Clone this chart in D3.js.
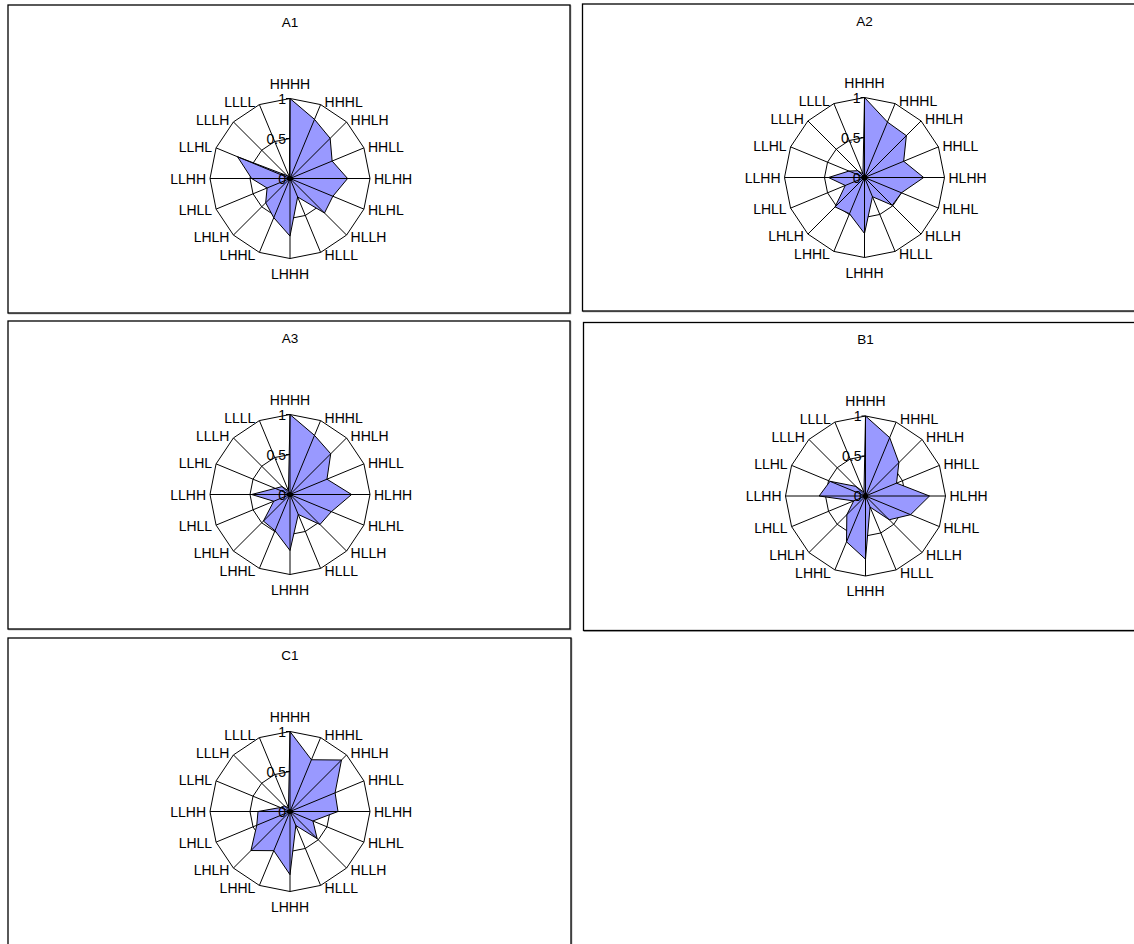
<!DOCTYPE html>
<html>
<head>
<meta charset="utf-8">
<script src="https://cdn.jsdelivr.net/npm/d3@7"></script>
<style>
  html, body { margin: 0; padding: 0; background: #fff; }
  svg { display: block; font-family: "Liberation Sans", Arial, sans-serif; }
</style>
</head>
<body>
<svg id="chart" width="1134" height="944"></svg>
<script>
// categories, clockwise from the top
const categories = ['HHHH', 'HHHL', 'HHLH', 'HHLL', 'HLHH', 'HLHL', 'HLLH', 'HLLL',
                    'LHHH', 'LHHL', 'LHLH', 'LHLL', 'LLHH', 'LLHL', 'LLLH', 'LLLL'];
const tickValues = [0, 0.5, 1];
const tickLabels = ['0', '0.5', '1'];

const panelNames = ['A1', 'A2', 'A3', 'B1', 'C1'];
const a1Values = [1.0, 0.80, 0.71, 0.57, 0.72, 0.58, 0.61, 0.25, 0.72, 0.53, 0.43, 0.31, 0.48, 0.71, 0.05, 0.02];
const a2Values = [1.0, 0.75, 0.74, 0.53, 0.74, 0.50, 0.49, 0.26, 0.70, 0.49, 0.52, 0.26, 0.45, 0.21, 0.12, 0.05];
const a3Values = [1.0, 0.80, 0.72, 0.50, 0.77, 0.56, 0.53, 0.27, 0.70, 0.49, 0.47, 0.22, 0.48, 0.20, 0.14, 0.05];
const b1Values = [1.0, 0.79, 0.59, 0.42, 0.80, 0.61, 0.42, 0.15, 0.79, 0.62, 0.33, 0.16, 0.58, 0.48, 0.17, 0.05];
const c1Values = [1.0, 0.70, 0.91, 0.61, 0.60, 0.31, 0.48, 0.19, 0.79, 0.53, 0.69, 0.45, 0.40, 0.13, 0.10, 0.05];
const seriesValues = [a1Values, a2Values, a3Values, b1Values, c1Values];

// panel frames [x, y, w, h]
const frames = [
  [8, 5, 562, 308],
  [582.5, 4, 570, 307],
  [8, 321, 562, 308],
  [583.5, 322.5, 570, 308],
  [8, 638, 563, 320]
];

const svg = d3.select('#chart');
const radius = 80;

const r = d3.scaleLinear().domain([0, 1]).range([0, radius]);
const angle = d3.scaleBand().domain(categories).range([0, 2 * Math.PI]).align(0);
const ang = c => angle(c); // band start = spoke angle

panelNames.forEach((name, i) => {
  const [fx, fy, fw, fh] = frames[i];
  const cx = fx + 282;
  const cy = fy + 173.5;
  const values = seriesValues[i];

  const g = svg.append('g');

  // frame (with faint shadow line like the original)
  g.append('rect')
    .attr('x', fx + 0.8).attr('y', fy + 0.8)
    .attr('width', fw).attr('height', fh)
    .attr('fill', 'none').attr('stroke', '#999').attr('stroke-width', 1);
  g.append('rect')
    .attr('x', fx).attr('y', fy)
    .attr('width', fw).attr('height', fh)
    .attr('fill', '#fff').attr('stroke', '#000').attr('stroke-width', 1.3);

  g.append('text')
    .attr('x', cx).attr('y', fy + 18)
    .attr('text-anchor', 'middle')
    .attr('dominant-baseline', 'middle')
    .style('font-size', '13.5px')
    .text(name);

  const plot = g.append('g').attr('transform', `translate(${cx},${cy})`);

  // gridline rings, under the series fill
  tickValues.slice(1).forEach(t => {
    plot.append('path')
      .datum(categories)
      .attr('d', d3.lineRadial().angle(c => ang(c)).radius(() => r(t)).curve(d3.curveLinearClosed))
      .attr('fill', 'none').attr('stroke', '#000').attr('stroke-width', 1);
  });

  // series area
  const area = d3.lineRadial()
    .angle((d, j) => ang(categories[j]))
    .radius(d => r(d))
    .curve(d3.curveLinearClosed);

  plot.append('path')
    .datum(values)
    .attr('d', area)
    .attr('fill', '#9999ff')
    .attr('stroke', '#000')
    .attr('stroke-width', 1)
    .attr('stroke-linejoin', 'miter');

  // spokes
  plot.selectAll('line.spoke')
    .data(categories)
    .join('line')
    .attr('class', 'spoke')
    .attr('x1', 0).attr('y1', 0)
    .attr('x2', c => r(1) * Math.sin(ang(c)))
    .attr('y2', c => -r(1) * Math.cos(ang(c)))
    .attr('stroke', '#000').attr('stroke-width', 1);

  plot.append('circle').attr('r', 2.6).attr('fill', '#000');

  // value axis ticks along the top spoke
  tickValues.forEach((t, k) => {
    plot.append('line')
      .attr('x1', -4).attr('x2', 0)
      .attr('y1', -r(t)).attr('y2', -r(t))
      .attr('stroke', '#000');
    plot.append('text')
      .attr('x', -4).attr('y', -r(t))
      .attr('text-anchor', 'end')
      .attr('dominant-baseline', 'central')
      .style('font-size', '14px')
      .text(tickLabels[k]);
  });

  // category labels
  plot.selectAll('text.cat')
    .data(categories)
    .join('text')
    .attr('class', 'cat')
    .style('font-size', '14px')
    .attr('dominant-baseline', 'central')
    .each(function (c) {
      const a = ang(c);
      const s = Math.sin(a), co = Math.cos(a);
      const px = r(1) * s, py = -r(1) * co;
      const el = d3.select(this);
      if (Math.abs(s) < 0.01) {
        el.attr('text-anchor', 'middle').attr('x', px).attr('y', py - co * 15);
      } else {
        el.attr('text-anchor', s > 0 ? 'start' : 'end')
          .attr('x', px + (s > 0 ? 4 : -4))
          .attr('y', py - co * 3);
      }
    })
    .text(c => c);
});
</script>
</body>
</html>
